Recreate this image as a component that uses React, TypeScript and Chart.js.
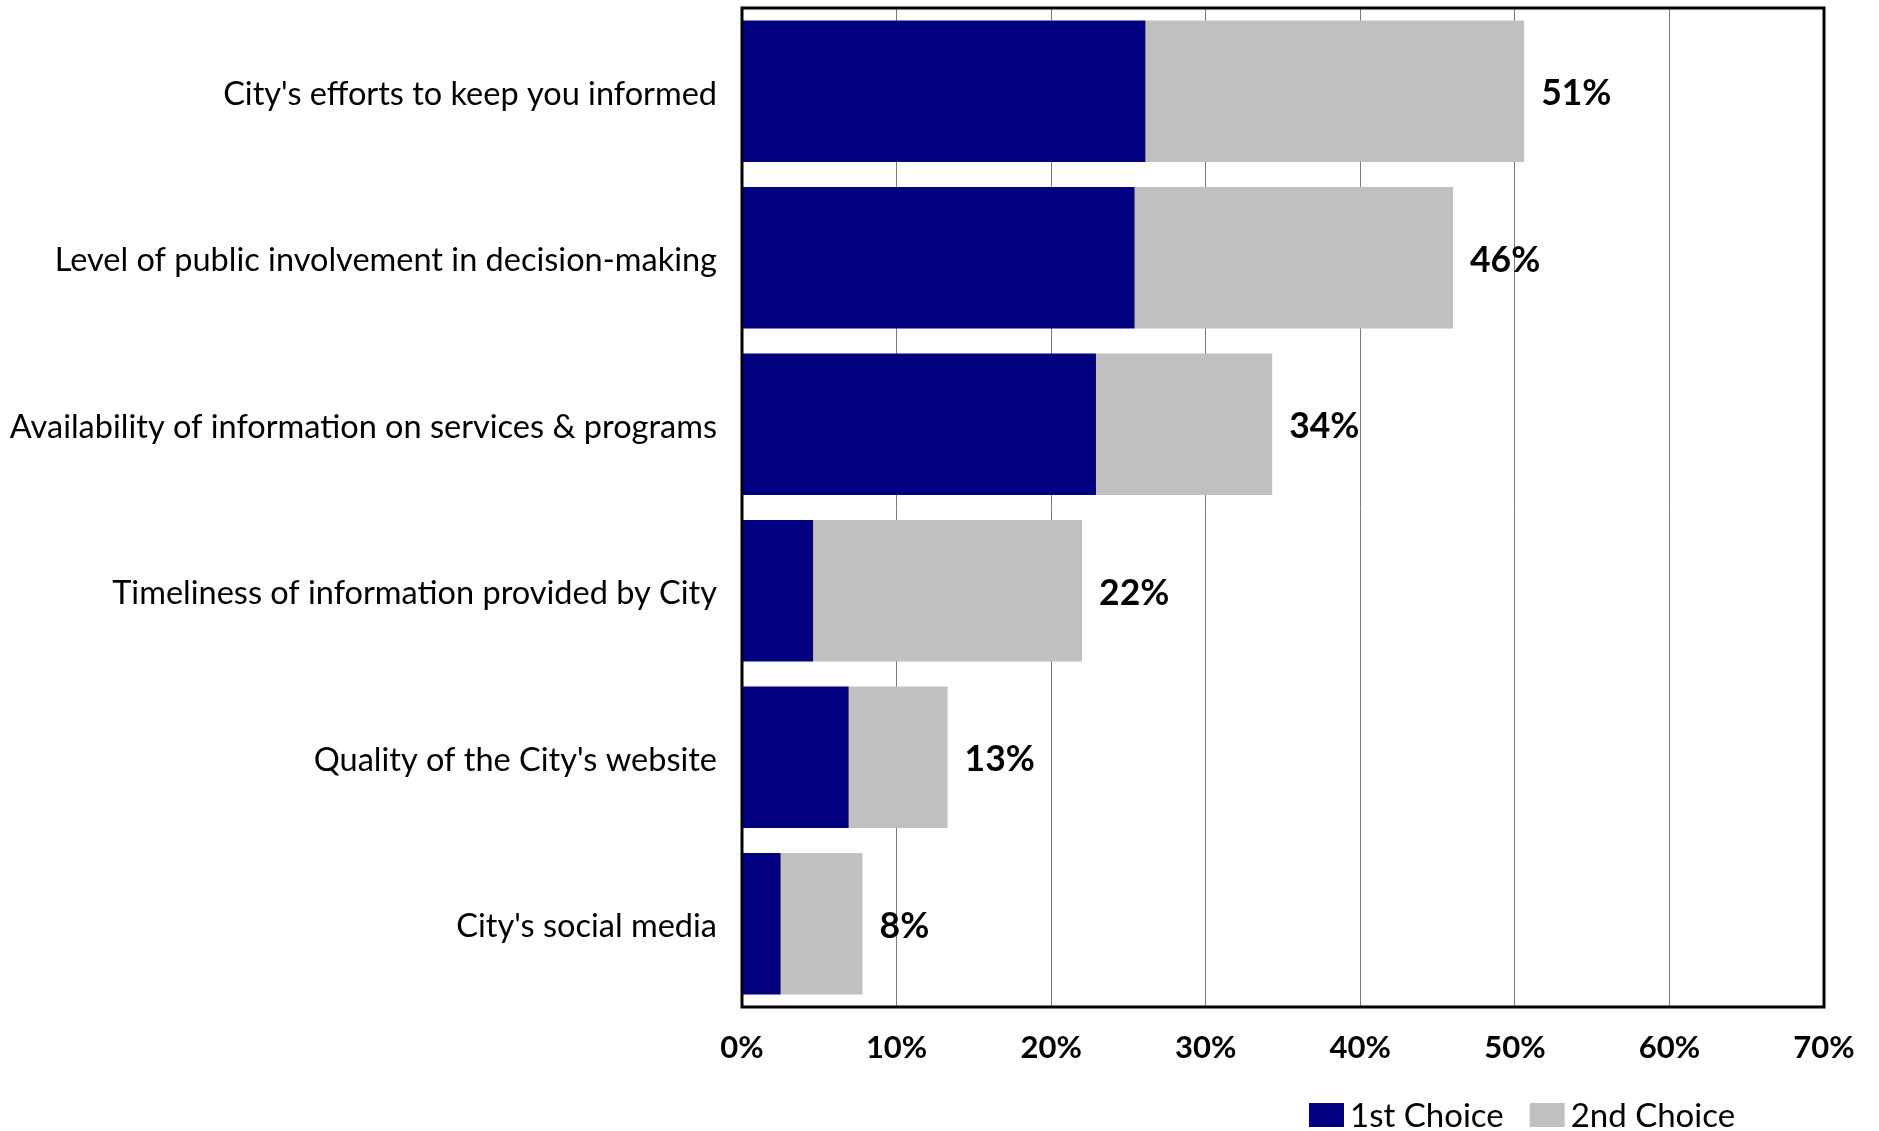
import { useEffect, useRef } from 'react';
import { Chart, registerables } from 'chart.js';

Chart.register(...registerables);

const categories = [
  "City's efforts to keep you informed",
  'Level of public involvement in decision-making',
  'Availability of information on services & programs',
  'Timeliness of information provided by City',
  "Quality of the City's website",
  "City's social media",
];
const firstChoice = [26.1, 25.4, 22.9, 4.6, 6.9, 2.5];
const secondChoice = [24.5, 20.6, 11.4, 17.4, 6.4, 5.3];
const totalLabels = ['51%', '46%', '34%', '22%', '13%', '8%'];
const tickLabels = ['0%', '10%', '20%', '30%', '40%', '50%', '60%', '70%'];
const seriesNames = ['1st Choice', '2nd Choice'];
const seriesColors = ['#000080', '#C0C0C0'];

const FONT = 'Lato, "Open Sans", sans-serif';

const overlay = {
  id: 'overlay',
  afterDatasetsDraw(chart: any) {
    const { ctx, chartArea: a } = chart;
    ctx.save();
    // total labels at the end of each stacked bar
    const meta = chart.getDatasetMeta(1);
    ctx.font = `bold 35.5px ${FONT}`;
    ctx.fillStyle = '#000';
    ctx.textAlign = 'left';
    ctx.textBaseline = 'alphabetic';
    meta.data.forEach((bar: any, i: number) => {
      ctx.fillText(totalLabels[i], bar.x + 17, bar.y + 14);
    });
    // frame
    ctx.strokeStyle = '#000';
    ctx.lineWidth = 3;
    ctx.strokeRect(a.left, a.top, a.right - a.left, a.bottom - a.top);
    // legend
    ctx.font = `33px ${FONT}`;
    let x = 1309;
    const boxY = 1103;
    chart.data.datasets.forEach((ds: any) => {
      ctx.fillStyle = ds.backgroundColor;
      ctx.fillRect(x, boxY, 35, 24);
      x += 41;
      ctx.fillStyle = '#000';
      ctx.fillText(ds.label, x, 1127);
      x += ctx.measureText(ds.label).width + 26;
    });
    ctx.restore();
  },
};

export default function App() {
  const ref = useRef<HTMLCanvasElement>(null);
  useEffect(() => {
    document.body.style.margin = '0';
    const canvas = ref.current!;
    const chart = new Chart(canvas, {
      type: 'bar',
      data: {
        labels: categories,
        datasets: [
          { label: seriesNames[0], data: firstChoice, backgroundColor: seriesColors[0] },
          { label: seriesNames[1], data: secondChoice, backgroundColor: seriesColors[1] },
        ],
      },
      options: {
        indexAxis: 'y',
        responsive: false,
        animation: false,
        devicePixelRatio: 1,
        layout: { padding: { top: 8, right: 55, left: 0, bottom: 0 } },
        datasets: { bar: { barPercentage: 0.85, categoryPercentage: 1 } },
        plugins: { legend: { display: false }, tooltip: { enabled: false } },
        scales: {
          x: {
            stacked: true,
            min: 0,
            max: 70,
            ticks: {
              stepSize: 10,
              color: '#000',
              padding: 22,
              font: { family: FONT, size: 31, weight: 'bold' },
              callback: (_v: any, i: number) => tickLabels[i],
            },
            grid: { color: '#7a7a7a', lineWidth: 1, drawTicks: false },
            border: { display: false },
            afterFit: (s: any) => { s.height = 124; },
          },
          y: {
            stacked: true,
            ticks: {
              color: '#000',
              padding: 25,
              labelOffset: 3,
              font: { family: FONT, size: 32.5 },
            },
            grid: { display: false, drawTicks: false },
            border: { display: false },
            afterFit: (s: any) => {
              s.width = 742;
              s.paddingTop = 0;
              s.paddingBottom = 0;
            },
          },
        },
      },
      plugins: [overlay],
    } as any);
    (document as any).fonts?.ready?.then(() => chart.update());
    return () => chart.destroy();
  }, []);
  return (
    <div style={{ width: 1879, height: 1131, background: '#fff' }}>
      <canvas ref={ref} width={1879} height={1131} style={{ display: 'block' }} />
    </div>
  );
}
